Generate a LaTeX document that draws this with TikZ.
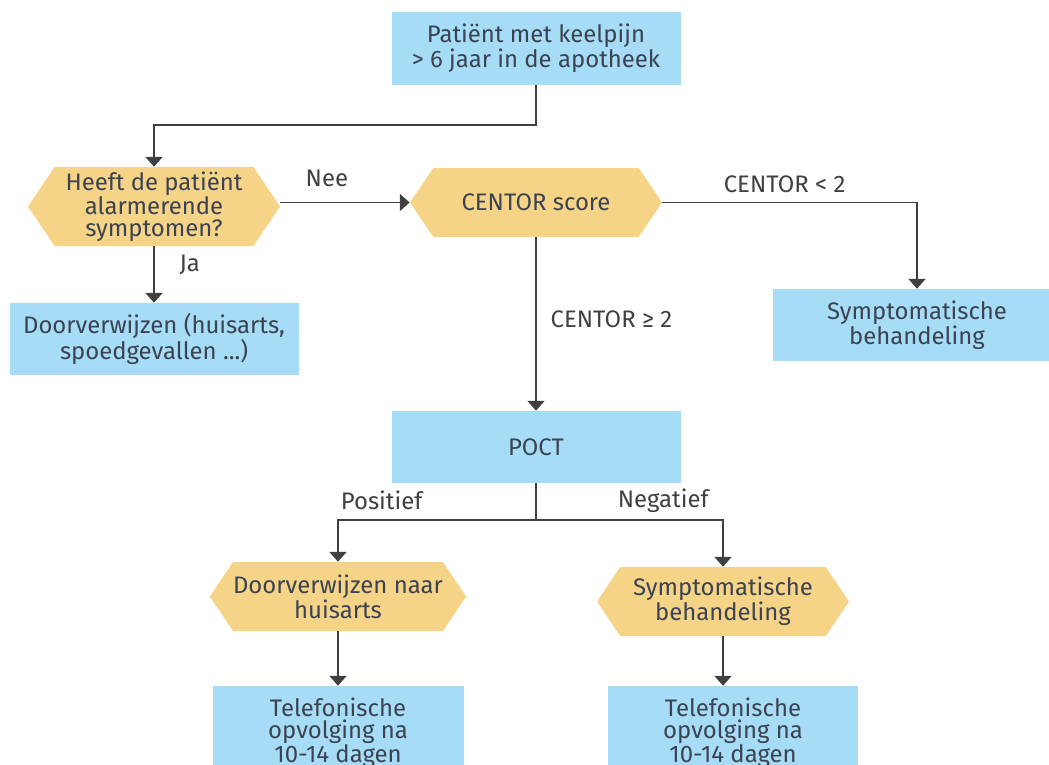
\documentclass[tikz,border=0pt]{standalone}
\usepackage{fontspec}
\setmainfont{Fira Sans}
\definecolor{FlowBlue}{HTML}{A6DCF6}
\definecolor{FlowYellow}{HTML}{F5D487}
\definecolor{FlowText}{HTML}{3B4252}
\definecolor{FlowLine}{HTML}{404040}
\usetikzlibrary{arrows.meta, positioning, shapes.symbols}
\newdimen\pxu \pxu=0.025cm

\begin{document}
\begin{tikzpicture}[x=0.025cm, y=-0.025cm,
      font={\fontsize{17}{15.6}\selectfont}, text=FlowText,
      box/.style={fill=FlowBlue, align=center, inner sep=0pt},
      hexa/.style={shape=signal, signal to=west and east, signal pointer angle=112,
         fill=FlowYellow, align=center, inner sep=0pt},
      flow/.style={-{Triangle[width=12pt,length=7pt]}, FlowLine, line width=1.4pt}]
            \clip (0,0) rectangle (1049,764);
            % Start
            \node[box, minimum width=289\pxu, minimum height=73\pxu] (start) at (536,48.5)
               {Patiënt met keelpijn\\> 6 jaar in de apotheek};
            % Alarm question and CENTOR score
            \node[hexa, minimum width=252\pxu, minimum height=79\pxu] (alarm) at (154,206.5)
               {Heeft de patiënt\\alarmerende\\symptomen?};
            \node[hexa, minimum width=252\pxu, minimum height=69\pxu] (centor) at (536,202.5)
               {CENTOR score};
            \node[box, minimum width=289\pxu, minimum height=72\pxu] (refer) at (154,339)
               {Doorverwijzen (huisarts,\\spoedgevallen ...)};
            \node[box, minimum width=288\pxu, minimum height=72\pxu] (sympt) at (917,325)
               {Symptomatische\\behandeling};
            % POCT and its outcomes
            \node[box, minimum width=289\pxu, minimum height=72\pxu] (poct) at (536,447) {POCT};
            \node[hexa, minimum width=252\pxu, minimum height=69\pxu] (pos) at (338,596.5)
               {Doorverwijzen naar\\huisarts};
            \node[hexa, minimum width=252\pxu, minimum height=69\pxu] (neg) at (723,601.5)
               {Symptomatische\\behandeling};
            \node[box, minimum width=251\pxu, minimum height=94\pxu] (callpos) at (338,733)
               {Telefonische\\opvolging na\\10-14 dagen};
            \node[box, minimum width=250\pxu, minimum height=94\pxu] (callneg) at (733,733)
               {Telefonische\\opvolging na\\10-14 dagen};
            % Connectors
            \draw[flow] (start.south) -- ++(0,40) -| (alarm.north);
            \draw[flow] (alarm.east |- centor.west) -- node[pos=0.36, above=10\pxu] {Nee} (centor.west);
            \draw[flow] (alarm.south) -- node[pos=0.33, right=20\pxu] {Ja} (refer.north);
            \draw[flow] (centor.east) -| node[pos=0.24, above=4\pxu] {CENTOR < 2} (sympt.north);
            \draw[flow] (centor.south) -- node[pos=0.47, right=9\pxu] {CENTOR ≥ 2} (poct.north);
            \draw[flow] (poct.south) -- ++(0,37) -| node[pos=0.39, above=5\pxu] {Positief} (pos.north);
            \draw[flow] (poct.south) -- ++(0,37) -| node[pos=0.34, above=2\pxu] {Negatief} (neg.north);
            \draw[flow] (pos.south) -- (callpos.north);
            \draw[flow] (neg.south) -- (neg.south |- callneg.north);
\end{tikzpicture}
\end{document}
